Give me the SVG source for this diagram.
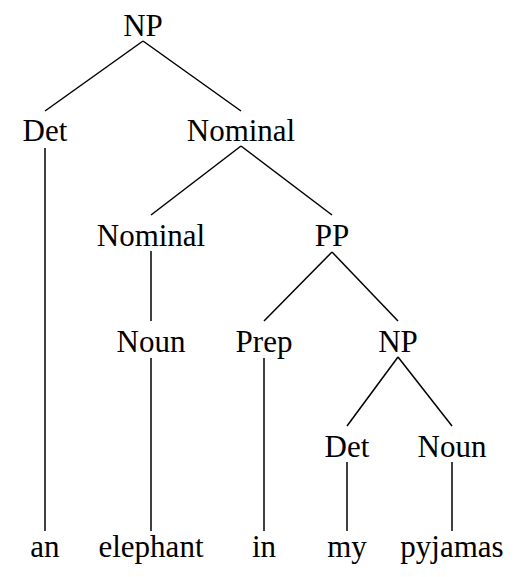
<svg xmlns="http://www.w3.org/2000/svg" width="516" height="577" viewBox="0 0 516 577">
<rect width="516" height="577" fill="#fff"/>
<g id="connectors" stroke="#000" stroke-width="1.5">
<line x1="143" y1="41" x2="45" y2="111"/>
<line x1="143" y1="41" x2="241" y2="111"/>
<line x1="45" y1="148" x2="45" y2="531"/>
<line x1="241" y1="146" x2="151" y2="215"/>
<line x1="241" y1="146" x2="332" y2="215"/>
<line x1="151" y1="251" x2="151" y2="321"/>
<line x1="332" y1="252" x2="264" y2="321"/>
<line x1="332" y1="252" x2="398" y2="321"/>
<line x1="151" y1="358" x2="151" y2="531"/>
<line x1="264" y1="358" x2="264" y2="531"/>
<line x1="398" y1="357" x2="347" y2="426"/>
<line x1="398" y1="357" x2="452" y2="426"/>
<line x1="347" y1="462" x2="347" y2="531"/>
<line x1="452" y1="462" x2="452" y2="531"/>
</g>
<g id="np1"><text x="143" y="36" font-family="Liberation Serif" font-size="31" text-anchor="middle">NP</text></g>
<g id="det1"><text x="45" y="141" font-family="Liberation Serif" font-size="31" text-anchor="middle">Det</text></g>
<g id="nominal1"><text x="241" y="141" font-family="Liberation Serif" font-size="31" text-anchor="middle">Nominal</text></g>
<g id="nominal2"><text x="151" y="246" font-family="Liberation Serif" font-size="31" text-anchor="middle">Nominal</text></g>
<g id="pp"><text x="332" y="246" font-family="Liberation Serif" font-size="31" text-anchor="middle">PP</text></g>
<g id="noun1"><text x="151" y="352" font-family="Liberation Serif" font-size="31" text-anchor="middle">Noun</text></g>
<g id="prep"><text x="264" y="352" font-family="Liberation Serif" font-size="31" text-anchor="middle">Prep</text></g>
<g id="np2"><text x="398" y="352" font-family="Liberation Serif" font-size="31" text-anchor="middle">NP</text></g>
<g id="det2"><text x="347" y="457" font-family="Liberation Serif" font-size="31" text-anchor="middle">Det</text></g>
<g id="noun2"><text x="452" y="457" font-family="Liberation Serif" font-size="31" text-anchor="middle">Noun</text></g>
<g id="w-an"><text x="45" y="557" font-family="Liberation Serif" font-size="31" text-anchor="middle">an</text></g>
<g id="w-elephant"><text x="151" y="557" font-family="Liberation Serif" font-size="31" text-anchor="middle">elephant</text></g>
<g id="w-in"><text x="264" y="557" font-family="Liberation Serif" font-size="31" text-anchor="middle">in</text></g>
<g id="w-my"><text x="347" y="557" font-family="Liberation Serif" font-size="31" text-anchor="middle">my</text></g>
<g id="w-pyjamas"><text x="452" y="557" font-family="Liberation Serif" font-size="31" text-anchor="middle">pyjamas</text></g>
</svg>
